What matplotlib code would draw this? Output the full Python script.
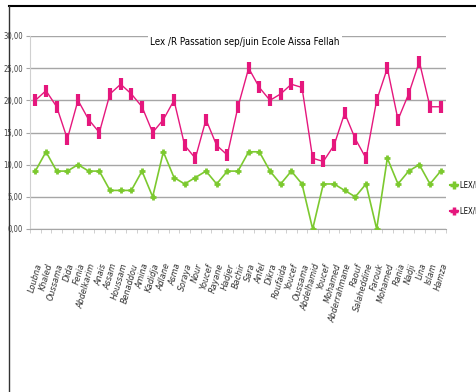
import matplotlib
matplotlib.use("Agg")
import matplotlib.pyplot as plt
from matplotlib import font_manager
from matplotlib.lines import Line2D

# pupils, in the order they appear on the sheet
eleves = ["Loubna", "Khaled", "Oussama", "Dida", "Fenia", "Abdelkarim", "Anais",
          "Assam", "Houssam", "Benaddou", "Amina", "Kadidja", "Adlane", "Asma",
          "Soraya", "Nour", "Youcef", "Rayane", "Hadjer", "Bachir", "Sara",
          "Anfel", "Dikra", "Roufaida", "Youcef", "Oussama", "Abdelhamid",
          "Youcef", "Mohamed", "Abderrahmane", "Raouf", "Salaheddine", "Farouk",
          "Mohamed", "Rania", "Nadji", "Lina", "Islam", "Hamza"]

# scores, september and june passations
sep = [9, 12, 9, 9, 10, 9, 9, 6, 6, 6, 9, 5, 12,
       8, 7, 8, 9, 7, 9, 9, 12, 12, 9, 7, 9, 7,
       0, 7, 7, 6, 5, 7, 0, 11, 7, 9, 10, 7, 9]
juin = [20, 21.5, 19, 14, 20, 17, 15, 21, 22.5, 21, 19, 15, 17,
        20, 13, 11, 17, 13, 11.5, 19, 25, 22, 20, 21, 22.5, 22,
        11, 10.5, 13, 18, 14, 11, 20, 25, 17, 21, 26, 19, 19]

yticks = [0, 5, 10, 15, 20, 25, 30]
legende = ["LEX/R(2015/2016) sep", "LEX/R(2015/2016) juin"]

vert = "#7cc92f"
rose = "#e5177d"
grille = "#a6a6a6"

# a narrow face if one is around, else condensed DejaVu
noms = {f.name for f in font_manager.fontManager.ttflist}
if "Liberation Sans Narrow" in noms:
    police = dict(family="Liberation Sans Narrow")
else:
    police = dict(family="DejaVu Sans", stretch="condensed")

fig = plt.figure(figsize=(4.76, 3.92), dpi=100)
ax = fig.add_axes([30 / 476, 1 - 229 / 392, 416 / 476, 193 / 392])

x = list(range(len(eleves)))
ax.plot(x, sep, color=vert, lw=1.2, marker="+", ms=5, mew=2, zorder=3)
ax.plot(x, juin, color=rose, lw=1.0, marker="|", ms=9, mew=3, zorder=3)

ax.set_xlim(-0.5, len(eleves) - 0.5)
ax.set_ylim(0, 30)
ax.set_yticks(yticks)
# comma as decimal separator
ax.set_yticklabels([("%.2f" % v).replace(".", ",") for v in yticks],
                   fontsize=5.5, color="#404040", **police)
ax.yaxis.set_tick_params(length=3, color=grille, pad=2)
ax.grid(axis="y", color=grille, lw=1)
ax.set_axisbelow(True)

ax.set_xticks(x)
ax.set_xticklabels(eleves, rotation=74, fontsize=6.5, style="italic",
                   ha="right", va="top", rotation_mode="anchor",
                   color="#303030", **police)
ax.xaxis.set_tick_params(which="major", length=0, pad=24)
ax.set_xticks([i + 0.5 for i in range(-1, len(eleves))], minor=True)
ax.xaxis.set_tick_params(which="minor", length=3, color="#c8c8c8")

for s in ["top", "right"]:
    ax.spines[s].set_visible(False)
ax.spines["left"].set_color("#d0d0d0")
ax.spines["bottom"].set_color(grille)

fig.text(245 / 476, 1 - 42 / 392, "Lex /R Passation sep/juin Ecole Aissa Fellah",
         ha="center", va="center", fontsize=7, color="black",
         bbox=dict(facecolor="white", edgecolor="none", pad=1.5), zorder=5,
         **police)

poignees = [Line2D([], [], color=vert, lw=1.5, marker="+", ms=6, mew=2.5),
            Line2D([], [], color=rose, lw=1.5, marker="+", ms=6, mew=2.5)]
fig.legend(poignees, legende, loc="upper left",
           bbox_to_anchor=(443 / 476, 1 - 174 / 392), frameon=False,
           handlelength=1.0, handletextpad=0.3, labelspacing=2.2,
           prop=dict(size=5.5, **police))

# chart frame
fig.add_artist(Line2D([9 / 476, 1], [1 - 6 / 392, 1 - 6 / 392], color="black",
                      lw=1.5, transform=fig.transFigure))
fig.add_artist(Line2D([9 / 476, 9 / 476], [0, 1 - 6 / 392], color="#333333",
                      lw=1, transform=fig.transFigure))

fig.savefig("out.png", dpi=100)
